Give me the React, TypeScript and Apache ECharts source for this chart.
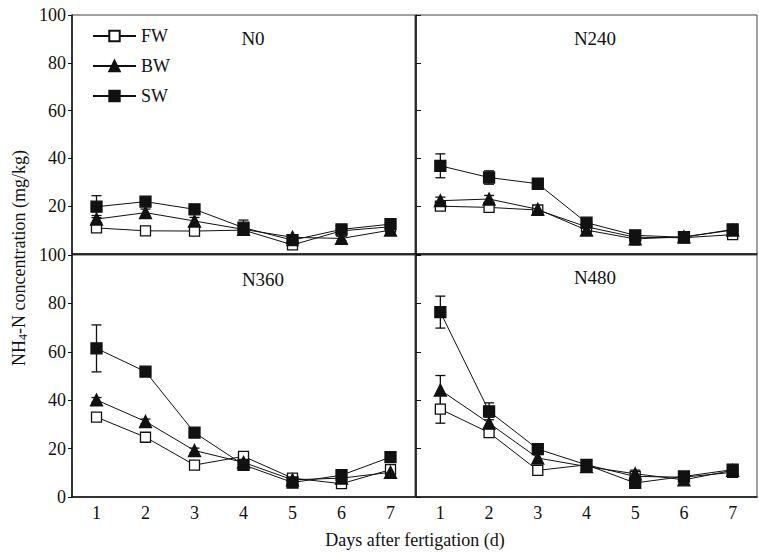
import React, { useEffect, useRef } from "react";
import * as echarts from "echarts";

const days = ["1", "2", "3", "4", "5", "6", "7"];
const seriesNames = ["FW", "BW", "SW"];
const panelLabels = ["N0", "N240", "N360", "N480"];

// N0
const n0FW = [10.9, 9.7, 9.6, 10.0, 3.8, 9.7, 11.4];
const n0FWErr = [1.5, 1, 1, 1, 1.5, 1, 1];
const n0BW = [14.6, 17.3, 13.8, 10.3, 7.0, 6.5, 10.0];
const n0BWErr = [1.5, 1.5, 1.5, 1, 1, 1, 1];
const n0SW = [19.8, 21.9, 18.7, 11.0, 5.8, 10.3, 12.5];
const n0SWErr = [4.6, 1.2, 1, 3.2, 1.5, 1.5, 1.5];
// N240
const n240FW = [20.0, 19.5, 18.4, 11.4, 7.0, 6.8, 8.1];
const n240FWErr = [1, 1, 1, 1, 1.5, 1, 1];
const n240BW = [22.3, 23.0, 18.7, 10.0, 6.3, 7.2, 10.0];
const n240BWErr = [1.5, 1.5, 1, 1, 2.5, 1, 1];
const n240SW = [36.9, 32.0, 29.4, 13.1, 7.8, 7.0, 10.3];
const n240SWErr = [5, 2.8, 1, 1.5, 2, 1, 1.5];
// N360
const n360FW = [33.0, 24.7, 13.2, 16.8, 7.8, 5.5, 11.3];
const n360FWErr = [1.5, 1, 1, 1, 1, 1, 1.5];
const n360BW = [40.1, 31.2, 19.2, 14.3, 7.1, 7.8, 10.2];
const n360BWErr = [1, 1, 1, 1, 1, 1, 1];
const n360SW = [61.4, 51.8, 26.6, 13.3, 6.0, 9.0, 16.5];
const n360SWErr = [9.7, 1, 1.2, 1.5, 1.2, 1.5, 2.2];
// N480
const n480FW = [36.3, 26.6, 11.0, 13.3, 8.5, 8.2, 10.2];
const n480FWErr = [5.8, 1.2, 1, 1, 1, 1, 1.2];
const n480BW = [44.2, 30.5, 16.1, 12.6, 9.6, 7.1, 11.0];
const n480BWErr = [6, 2.5, 1.5, 1, 1.5, 1, 1];
const n480SW = [76.4, 35.4, 19.8, 13.3, 5.8, 8.5, 11.3];
const n480SWErr = [6.6, 3.5, 1.5, 1.5, 1.5, 1.5, 1.5];

const panels = [
  { values: [n0FW, n0BW, n0SW], errs: [n0FWErr, n0BWErr, n0SWErr] },
  { values: [n240FW, n240BW, n240SW], errs: [n240FWErr, n240BWErr, n240SWErr] },
  { values: [n360FW, n360BW, n360SW], errs: [n360FWErr, n360BWErr, n360SWErr] },
  { values: [n480FW, n480BW, n480SW], errs: [n480FWErr, n480BWErr, n480SWErr] },
];

const FONT = "'Liberation Serif', 'Times New Roman', serif";
const INK = "#111";

export default function App() {
  const ref = useRef<HTMLDivElement>(null);

  useEffect(() => {
    if (!ref.current) return;
    const chart = echarts.init(ref.current, undefined, { renderer: "svg" });

    const grids = [
      { left: 72, top: 15, width: 343, height: 239 },
      { left: 416, top: 15, width: 341, height: 239 },
      { left: 72, top: 255, width: 343, height: 242 },
      { left: 416, top: 255, width: 341, height: 242 },
    ].map((g) => ({ ...g, show: true, borderColor: "#444", borderWidth: 1, containLabel: false }));

    const xAxes = grids.map((_, i) => ({
      type: "category",
      gridIndex: i,
      data: days,
      boundaryGap: true,
      axisLine: { lineStyle: { color: INK, width: 1.5 } },
      axisTick: { inside: true, length: 5, lineStyle: { color: INK } },
      axisLabel: {
        show: i >= 2,
        color: INK,
        fontFamily: FONT,
        fontSize: 18,
        margin: 7,
      },
    }));

    const yAxes = grids.map((_, i) => {
      const isLeft = i % 2 === 0;
      return {
        type: "value",
        gridIndex: i,
        min: 0,
        max: 100,
        interval: 20,
        splitLine: { show: false },
        axisLine: { show: true, lineStyle: { color: INK, width: 1.5 } },
        axisTick: { show: true, inside: !isLeft, length: isLeft ? 4 : 5, lineStyle: { color: INK } },
        axisLabel: {
          show: isLeft,
          showMinLabel: i !== 0,
          color: INK,
          fontFamily: FONT,
          fontSize: 18,
          margin: 6,
        },
      };
    });

    const symbols = [
      { symbol: "rect", size: 10, color: "#fff" },
      { symbol: "triangle", size: 12, color: INK },
      { symbol: "rect", size: 11, color: INK },
    ];

    const series: any[] = [];
    panels.forEach((p, pi) => {
      p.values.forEach((vals, si) => {
        const errs = p.errs[si];
        series.push({
          type: "custom",
          xAxisIndex: pi,
          yAxisIndex: pi,
          silent: true,
          z: 1,
          data: vals.map((v, k) => [k, v - errs[k], v + errs[k]]),
          renderItem: (params: any, api: any) => {
            const x = api.value(0);
            const lo = api.coord([x, api.value(1)]);
            const hi = api.coord([x, api.value(2)]);
            const c = 5;
            const style = { stroke: INK, lineWidth: 1.3 };
            return {
              type: "group",
              children: [
                { type: "line", shape: { x1: lo[0], y1: lo[1], x2: hi[0], y2: hi[1] }, style },
                { type: "line", shape: { x1: lo[0] - c, y1: lo[1], x2: lo[0] + c, y2: lo[1] }, style },
                { type: "line", shape: { x1: hi[0] - c, y1: hi[1], x2: hi[0] + c, y2: hi[1] }, style },
              ],
            };
          },
        });
        series.push({
          type: "line",
          name: seriesNames[si],
          xAxisIndex: pi,
          yAxisIndex: pi,
          data: vals,
          symbol: symbols[si].symbol,
          symbolSize: symbols[si].size,
          showAllSymbol: true,
          z: 2 + si,
          lineStyle: { color: INK, width: 1 },
          itemStyle: { color: symbols[si].color, borderColor: INK, borderWidth: 1.3 },
        });
      });
    });

    const labelPos = [
      { x: 253, y: 38 },
      { x: 595, y: 38 },
      { x: 263, y: 279 },
      { x: 595, y: 277 },
    ];

    chart.setOption({
      animation: false,
      backgroundColor: "#fff",
      grid: grids,
      xAxis: xAxes,
      yAxis: yAxes,
      legend: {
        data: seriesNames,
        orient: "vertical",
        left: 92,
        top: 27,
        padding: 0,
        itemWidth: 43,
        itemHeight: 13,
        itemGap: 12,
        textStyle: { fontFamily: FONT, fontSize: 18, color: INK, lineHeight: 18 },
      },
      graphic: [
        ...panelLabels.map((t, i) => ({
          type: "text",
          x: labelPos[i].x,
          y: labelPos[i].y,
          style: {
            text: t,
            fontFamily: FONT,
            fontSize: 19,
            fill: INK,
            textAlign: "center",
            textVerticalAlign: "middle",
          },
        })),
        {
          type: "text",
          x: 415,
          y: 540,
          style: {
            text: "Days after fertigation (d)",
            fontFamily: FONT,
            fontSize: 18,
            fill: INK,
            textAlign: "center",
            textVerticalAlign: "middle",
          },
        },
        {
          type: "text",
          x: 19,
          y: 258,
          rotation: Math.PI / 2,
          style: {
            text: "{a|NH}{b|4}{a|-N concentration (mg/kg)}",
            fontFamily: FONT,
            fill: INK,
            textAlign: "center",
            textVerticalAlign: "middle",
            rich: {
              a: { fontFamily: FONT, fontSize: 18, fill: INK, lineHeight: 20 },
              b: { fontFamily: FONT, fontSize: 12, fill: INK, lineHeight: 20, verticalAlign: "bottom", padding: [8, 0, 0, 0] },
            },
          },
        },
      ],
      series,
    });

    return () => chart.dispose();
  }, []);

  return <div ref={ref} style={{ width: 759, height: 552, position: "absolute", left: 0, top: 0 }} />;
}
